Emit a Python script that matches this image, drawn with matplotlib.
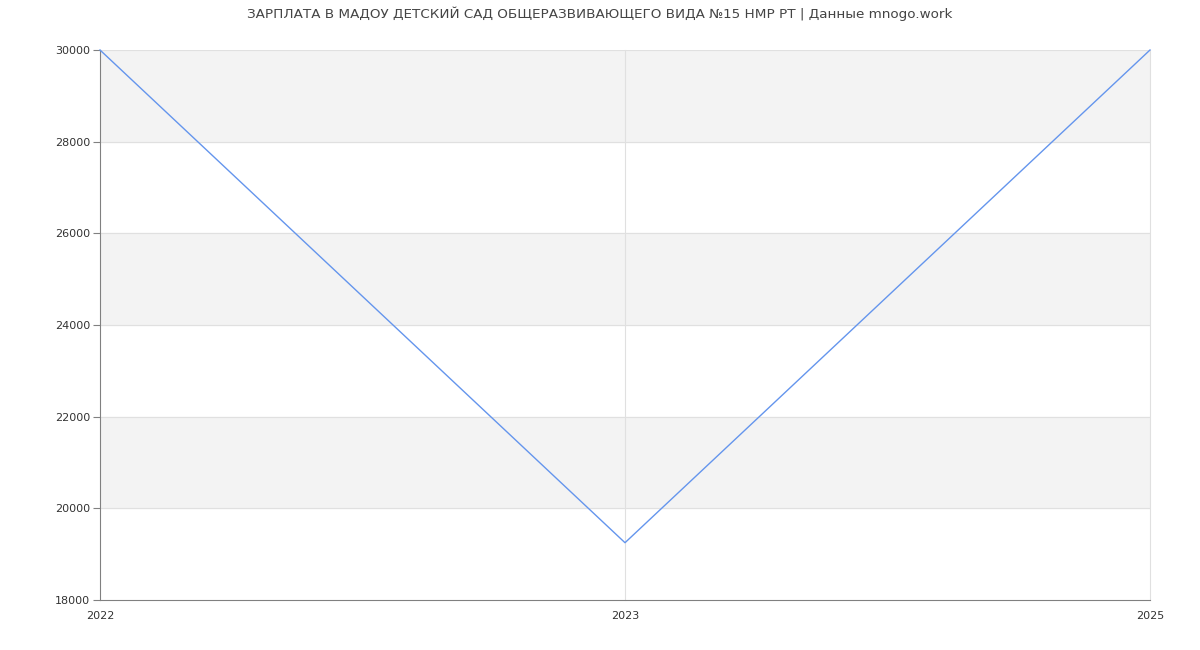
import matplotlib
matplotlib.use("Agg")
import matplotlib.pyplot as plt

# Chart data
years = ["2022", "2023", "2025"]
salary = [30000, 19250, 30000]
y_ticks = [18000, 20000, 22000, 24000, 26000, 28000, 30000]

TITLE = "ЗАРПЛАТА В МАДОУ ДЕТСКИЙ САД ОБЩЕРАЗВИВАЮЩЕГО ВИДА №15 НМР РТ | Данные mnogo.work"

fig = plt.figure(figsize=(12, 6.5), dpi=100)
ax = fig.add_axes([100 / 1200, 50 / 650, 1050 / 1200, 550 / 650])

xs = list(range(len(years)))

# Alternating horizontal bands
for i in range(len(y_ticks) - 1):
    if i % 2 == 1:
        ax.axhspan(y_ticks[i], y_ticks[i + 1], color="#f3f3f3", zorder=0)

# Grid lines
for y in y_ticks[1:]:
    ax.axhline(y, color="#e0e0e0", linewidth=0.8, zorder=1)
for x in xs[1:]:
    ax.axvline(x, color="#e0e0e0", linewidth=0.8, zorder=1, clip_on=False)

ax.plot(xs, salary, color="#6495ed", linewidth=1.0, zorder=3, clip_on=False)

ax.set_xlim(xs[0], xs[-1])
ax.set_ylim(y_ticks[0], y_ticks[-1])
ax.set_xticks(xs)
ax.set_xticklabels(years)
ax.set_yticks(y_ticks)
ax.set_yticklabels([str(v) for v in y_ticks])

ax.tick_params(axis="x", length=0, pad=8, labelsize=8, labelcolor="#333333")
ax.tick_params(axis="y", length=5, width=0.8, color="#808080", pad=2,
               labelsize=8, labelcolor="#333333")

for side in ["top", "right"]:
    ax.spines[side].set_visible(False)
for side in ["left", "bottom"]:
    ax.spines[side].set_color("#808080")
    ax.spines[side].set_linewidth(0.8)

fig.text(0.5, 1 - 14 / 650, TITLE, ha="center", va="center",
         fontsize=9.7, color="#444444")

fig.savefig("out.png", dpi=100)
